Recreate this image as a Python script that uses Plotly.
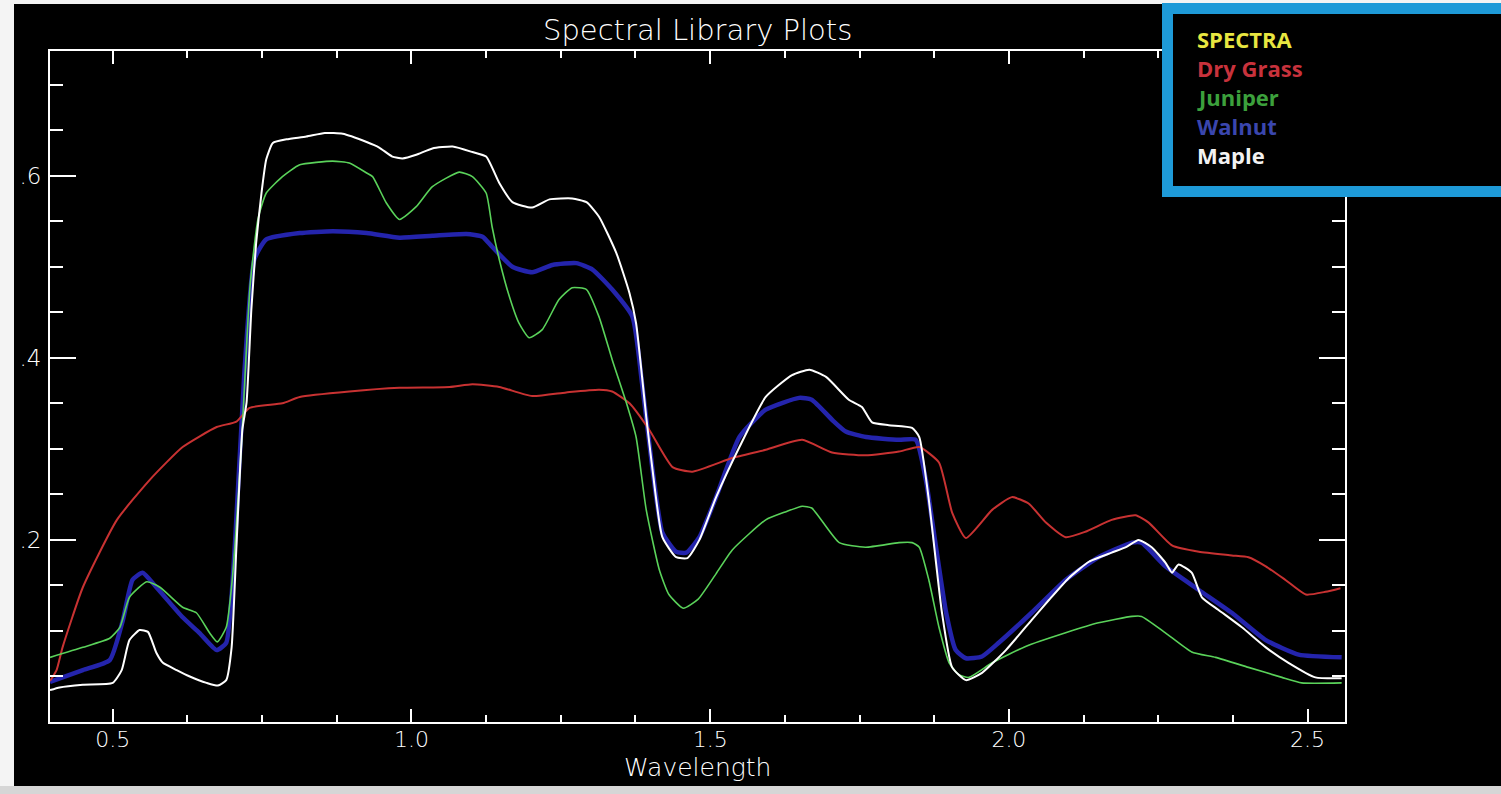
import plotly.graph_objects as go

# ---------------- data ----------------
dry_grass_wl = [0.395, 0.406, 0.416, 0.45, 0.507, 0.562, 0.617, 0.674, 0.707, 0.729,
                0.784, 0.813, 0.896, 0.98, 1.064, 1.102, 1.147, 1.202, 1.259, 1.314,
                1.336, 1.365, 1.398, 1.437, 1.47, 1.537, 1.593, 1.654, 1.704, 1.76,
                1.816, 1.85, 1.883, 1.905, 1.928, 1.972, 2.005, 2.033, 2.062, 2.095,
                2.128, 2.172, 2.212, 2.234, 2.273, 2.318, 2.373, 2.401, 2.43, 2.463,
                2.497, 2.53, 2.555]
dry_grass_refl = [0.045, 0.057, 0.082, 0.148, 0.222, 0.266, 0.302, 0.324, 0.33, 0.345,
                  0.35, 0.357, 0.363, 0.367, 0.368, 0.371, 0.368, 0.358, 0.362, 0.365,
                  0.363, 0.35, 0.321, 0.28, 0.275, 0.29, 0.299, 0.31, 0.296, 0.293,
                  0.297, 0.302, 0.285, 0.23, 0.202, 0.233, 0.247, 0.24, 0.219, 0.203,
                  0.209, 0.222, 0.227, 0.219, 0.194, 0.187, 0.183, 0.181, 0.171, 0.156,
                  0.14, 0.143, 0.147]

juniper_wl = [0.395, 0.45, 0.495, 0.512, 0.528, 0.557, 0.579, 0.617, 0.64, 0.662,
              0.675, 0.69, 0.70, 0.715, 0.73, 0.743, 0.757, 0.784, 0.813, 0.868,
              0.896, 0.925, 0.935, 0.958, 0.98, 1.008, 1.035, 1.08, 1.102, 1.125,
              1.135, 1.147, 1.164, 1.18, 1.197, 1.219, 1.247, 1.269, 1.293, 1.314,
              1.336, 1.36, 1.376, 1.393, 1.415, 1.431, 1.455, 1.48, 1.51, 1.537,
              1.593, 1.627, 1.654, 1.67, 1.716, 1.76, 1.816, 1.838, 1.85, 1.866,
              1.883, 1.9, 1.916, 1.933, 1.972, 2.028, 2.095, 2.15, 2.206, 2.222,
              2.262, 2.306, 2.346, 2.401, 2.457, 2.49, 2.557]
juniper_refl = [0.071, 0.082, 0.092, 0.104, 0.137, 0.154, 0.148, 0.126, 0.12, 0.098,
                0.088, 0.104, 0.156, 0.30, 0.48, 0.552, 0.581, 0.599, 0.612, 0.616,
                0.614, 0.603, 0.599, 0.57, 0.552, 0.566, 0.588, 0.604, 0.599, 0.581,
                0.544, 0.508, 0.467, 0.438, 0.422, 0.431, 0.464, 0.477, 0.475, 0.445,
                0.398, 0.35, 0.313, 0.233, 0.167, 0.14, 0.125, 0.135, 0.163, 0.189,
                0.222, 0.231, 0.237, 0.235, 0.197, 0.192, 0.197, 0.197, 0.192, 0.156,
                0.104, 0.065, 0.052, 0.049, 0.065, 0.083, 0.098, 0.109, 0.116, 0.116,
                0.098, 0.077, 0.071, 0.06, 0.049, 0.043, 0.043]

walnut_wl = [0.395, 0.45, 0.495, 0.517, 0.533, 0.55, 0.573, 0.617, 0.645, 0.674,
             0.69, 0.705, 0.72, 0.737, 0.757, 0.813, 0.868, 0.925, 0.98, 1.035,
             1.092, 1.119, 1.135, 1.169, 1.202, 1.236, 1.276, 1.303, 1.336, 1.37,
             1.386, 1.403, 1.42, 1.443, 1.46, 1.482, 1.51, 1.549, 1.593, 1.649,
             1.67, 1.704, 1.727, 1.761, 1.816, 1.844, 1.861, 1.878, 1.895, 1.911,
             1.928, 1.955, 1.983, 2.038, 2.095, 2.15, 2.206, 2.222, 2.262, 2.318,
             2.373, 2.43, 2.485, 2.557]
walnut_refl = [0.044, 0.057, 0.068, 0.112, 0.156, 0.164, 0.148, 0.115, 0.098, 0.079,
               0.087, 0.2, 0.38, 0.508, 0.53, 0.537, 0.539, 0.537, 0.532, 0.534,
               0.536, 0.533, 0.522, 0.5, 0.494, 0.502, 0.504, 0.497, 0.475, 0.445,
               0.372, 0.28, 0.208, 0.187, 0.186, 0.203, 0.247, 0.313, 0.343, 0.356,
               0.354, 0.332, 0.319, 0.313, 0.31, 0.31, 0.266, 0.192, 0.12, 0.079,
               0.07, 0.072, 0.087, 0.12, 0.156, 0.181, 0.197, 0.197, 0.171, 0.145,
               0.12, 0.09, 0.074, 0.071]

maple_wl = [0.395, 0.411, 0.45, 0.5, 0.515, 0.528, 0.545, 0.559, 0.573, 0.584,
            0.607, 0.629, 0.657, 0.676, 0.69, 0.699, 0.707, 0.717, 0.724, 0.732,
            0.74, 0.749, 0.757, 0.768, 0.791, 0.824, 0.855, 0.885, 0.925, 0.946,
            0.968, 0.985, 1.008, 1.035, 1.069, 1.102, 1.125, 1.147, 1.169, 1.202,
            1.231, 1.269, 1.293, 1.314, 1.343, 1.365, 1.376, 1.386, 1.393, 1.403,
            1.42, 1.443, 1.462, 1.482, 1.51, 1.549, 1.593, 1.637, 1.666, 1.694,
            1.732, 1.754, 1.771, 1.799, 1.838, 1.85, 1.866, 1.888, 1.905, 1.928,
            1.955, 1.995, 2.038, 2.067, 2.1, 2.134, 2.172, 2.196, 2.217, 2.239,
            2.262, 2.273, 2.284, 2.306, 2.323, 2.351, 2.39, 2.43, 2.468, 2.513,
            2.557]
maple_refl = [0.035, 0.038, 0.041, 0.043, 0.057, 0.09, 0.101, 0.099, 0.076, 0.065,
              0.057, 0.05, 0.043, 0.04, 0.046, 0.082, 0.192, 0.321, 0.351, 0.453,
              0.526, 0.581, 0.618, 0.636, 0.64, 0.643, 0.647, 0.646, 0.637, 0.631,
              0.621, 0.619, 0.623, 0.63, 0.632, 0.626, 0.621, 0.592, 0.571, 0.565,
              0.574, 0.575, 0.571, 0.555, 0.515, 0.471, 0.438, 0.379, 0.335, 0.28,
              0.203, 0.181, 0.18, 0.2, 0.247, 0.302, 0.357, 0.381, 0.387, 0.379,
              0.354, 0.346, 0.329, 0.326, 0.323, 0.313, 0.244, 0.12, 0.06, 0.046,
              0.054, 0.079, 0.112, 0.134, 0.158, 0.176, 0.186, 0.192, 0.2, 0.192,
              0.175, 0.164, 0.173, 0.164, 0.137, 0.123, 0.104, 0.082, 0.065, 0.049,
              0.048]

x_tick_vals = [0.5, 1.0, 1.5, 2.0, 2.5]
x_tick_text = ["0.5", "1.0", "1.5", "2.0", "2.5"]
y_tick_vals = [0.2, 0.4, 0.6]
y_tick_text = [".2", ".4", ".6"]

legend_labels = ["SPECTRA", "Dry Grass", "Juniper", "Walnut", "Maple"]
legend_colors = ["#e8e640", "#c8323c", "#3ca03c", "#3a46ae", "#f2f2f2"]

title_text = "Spectral Library Plots"
x_title = "Wavelength"

# ---------------- layout geometry (pixels) ----------------
W, H = 1501, 794
L, R, T, B = 50, 1345, 51, 722


def px(x):
    return (x - L) / (R - L)


def py(y):
    return (B - y) / (B - T)


fig = go.Figure()
series = [
    (walnut_wl, walnut_refl, "#2424ac", 4.5, "Walnut"),
    (dry_grass_wl, dry_grass_refl, "#c83232", 2.0, "Dry Grass"),
    (juniper_wl, juniper_refl, "#5ad25a", 1.6, "Juniper"),
    (maple_wl, maple_refl, "#ffffff", 2.0, "Maple"),
]
for xs, ys, col, lw, nm in series:
    fig.add_trace(go.Scatter(x=xs, y=ys, mode="lines", name=nm,
                             line=dict(color=col, width=lw, shape="spline", smoothing=0.5),
                             showlegend=False, hoverinfo="skip"))

x_font = dict(family="DejaVu Sans", size=22, color="white", weight=300)
y_font = dict(family="DejaVu Sans", size=23, color="white", weight=300)

fig.update_xaxes(range=[0.395, 2.5626], showgrid=False, zeroline=False,
                 showline=True, linecolor="white", linewidth=2, mirror="ticks",
                 ticks="inside", ticklen=13, tickwidth=2, tickcolor="white",
                 tickvals=x_tick_vals, ticktext=x_tick_text, tickfont=x_font,
                 ticklabelstandoff=-3,
                 minor=dict(ticks="inside", ticklen=7, tickwidth=2, tickcolor="white",
                            dtick=0.125, tick0=0.5, showgrid=False))
fig.update_yaxes(range=[0, 0.737], showgrid=False, zeroline=False,
                 showline=True, linecolor="white", linewidth=2, mirror="ticks",
                 ticks="inside", ticklen=26, tickwidth=2, tickcolor="white",
                 tickvals=y_tick_vals, ticktext=y_tick_text, tickfont=y_font,
                 ticklabelstandoff=2,
                 minor=dict(ticks="inside", ticklen=13, tickwidth=2, tickcolor="white",
                            dtick=0.05, tick0=0, showgrid=False))

shapes = [
    # white strip at left, top strip, grey status bar (screenshot edges)
    dict(type="rect", xref="paper", yref="paper", x0=px(-5), x1=px(14), y0=py(800), y1=py(-5),
         fillcolor="#f4f4f4", line_width=0, layer="above"),
    dict(type="rect", xref="paper", yref="paper", x0=px(-5), x1=px(1510), y0=py(4), y1=py(-5),
         fillcolor="#f4f4f4", line_width=0, layer="above"),
    dict(type="rect", xref="paper", yref="paper", x0=px(-5), x1=px(1510), y0=py(800), y1=py(786),
         fillcolor="#d6d6d6", line_width=0, layer="above"),
    # legend box: blue frame and black interior
    dict(type="rect", xref="paper", yref="paper", x0=px(1162), x1=px(1515), y0=py(197), y1=py(3),
         fillcolor="#1e9ad8", line_width=0, layer="above"),
    dict(type="rect", xref="paper", yref="paper", x0=px(1173), x1=px(1515), y0=py(186), y1=py(14),
         fillcolor="#000000", line_width=0, layer="above"),
]

annotations = [
    dict(text=title_text, xref="paper", yref="paper", x=px(697), y=py(30),
         xanchor="center", yanchor="middle", showarrow=False,
         font=dict(family="DejaVu Sans", size=29, color="white", weight=300)),
    dict(text=x_title, xref="paper", yref="paper", x=px(697), y=py(767),
         xanchor="center", yanchor="middle", showarrow=False,
         font=dict(family="DejaVu Sans", size=25, color="white", weight=300)),
]
for i, (lab, col) in enumerate(zip(legend_labels, legend_colors)):
    annotations.append(dict(text="<b>%s</b>" % lab, xref="paper", yref="paper",
                            x=px(1195), y=py(39 + i * 29), xanchor="left", yanchor="middle",
                            showarrow=False,
                            font=dict(family="Open Sans", size=22, color=col)))

fig.update_layout(width=W, height=H, paper_bgcolor="black", plot_bgcolor="black",
                  margin=dict(l=L, r=W - R, t=T, b=H - B, pad=0),
                  shapes=shapes, annotations=annotations, showlegend=False)

fig.write_html("out.html", config={"displayModeBar": False},
               post_script="document.body.style.margin='0px';document.body.style.overflow='hidden';")
